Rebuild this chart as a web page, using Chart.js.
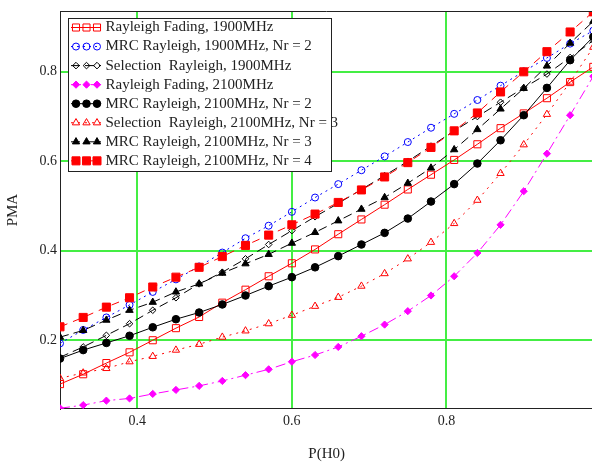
<!DOCTYPE html>
<html>
<head>
<meta charset="utf-8">
<script src="https://cdn.jsdelivr.net/npm/chart.js@4.4.1/dist/chart.umd.min.js"></script>
<style>
body { margin: 0; overflow: hidden; background: #fff; }
#wrap { width: 600px; height: 463px; }
</style>
</head>
<body>
<div id="wrap"><canvas id="myChart" width="600" height="463"></canvas></div>
<script>
// P(H0) values
var pH0 = [0.30, 0.33, 0.36, 0.39, 0.42, 0.45, 0.48, 0.51, 0.54, 0.57, 0.60, 0.63,
           0.66, 0.69, 0.72, 0.75, 0.78, 0.81, 0.84, 0.87, 0.90, 0.93, 0.96, 0.99];

var rayleigh1900 = [0.102, 0.124, 0.149, 0.173, 0.200, 0.227, 0.252, 0.284, 0.313, 0.343, 0.372, 0.403,
                    0.437, 0.470, 0.503, 0.537, 0.570, 0.603, 0.638, 0.674, 0.707, 0.741, 0.777, 0.811];
var mrc1900 = [0.193, 0.223, 0.251, 0.279, 0.308, 0.336, 0.365, 0.396, 0.428, 0.456, 0.487, 0.519,
               0.549, 0.580, 0.611, 0.643, 0.675, 0.706, 0.737, 0.769, 0.801, 0.831, 0.863, 0.892];
var sel1900 = [0.162, 0.185, 0.211, 0.237, 0.267, 0.295, 0.326, 0.352, 0.382, 0.414, 0.445, 0.476,
               0.506, 0.537, 0.568, 0.600, 0.634, 0.668, 0.700, 0.732, 0.764, 0.795, 0.832, 0.870];
var rayleigh2100 = [0.048, 0.055, 0.065, 0.070, 0.080, 0.089, 0.098, 0.109, 0.122, 0.135, 0.152, 0.167,
                    0.185, 0.209, 0.235, 0.265, 0.300, 0.343, 0.395, 0.458, 0.533, 0.617, 0.703, 0.790];
var mrc2100nr2 = [0.159, 0.178, 0.194, 0.210, 0.229, 0.247, 0.262, 0.280, 0.300, 0.321, 0.341, 0.363,
                  0.388, 0.414, 0.440, 0.472, 0.510, 0.549, 0.595, 0.647, 0.703, 0.764, 0.826, 0.878];
var sel2100nr3 = [0.115, 0.127, 0.137, 0.152, 0.164, 0.178, 0.191, 0.207, 0.221, 0.237, 0.256, 0.276,
                  0.296, 0.321, 0.349, 0.382, 0.419, 0.461, 0.513, 0.573, 0.637, 0.705, 0.777, 0.855];
var mrc2100nr3 = [0.207, 0.222, 0.245, 0.267, 0.285, 0.308, 0.326, 0.350, 0.371, 0.392, 0.417, 0.441,
                  0.467, 0.493, 0.519, 0.551, 0.585, 0.626, 0.671, 0.717, 0.763, 0.813, 0.864, 0.913];
var mrc2100nr4 = [0.230, 0.251, 0.274, 0.295, 0.319, 0.341, 0.363, 0.387, 0.412, 0.435, 0.458, 0.482,
                  0.508, 0.536, 0.565, 0.597, 0.631, 0.668, 0.708, 0.755, 0.800, 0.845, 0.889, 0.934];

var xTicks = [0.4, 0.6, 0.8];
var yTicks = [0.2, 0.4, 0.6, 0.8];

var gridGreen = '#44ee44';
var textColor = '#222';
var serif = 'Liberation Serif';

function makeSet(label, values, color, dash, style, radius, filled, idx) {
	return {
		label: label,
		data: values.map(function(v, i){ return {x: pH0[i], y: v}; }),
		borderColor: color,
		borderWidth: 1,
		borderDash: dash,
		pointStyle: style,
		pointRadius: radius,
		pointBorderWidth: 1,
		pointBorderColor: color,
		pointBackgroundColor: filled ? color : 'rgba(0,0,0,0)',
		tension: 0,
		fill: false,
		order: 8 - idx
	};
}

var datasets = [
	makeSet('Rayleigh Fading, 1900MHz', rayleigh1900, '#ff0000', [], 'rect', 5, false, 0),
	makeSet('MRC Rayleigh, 1900MHz, Nr = 2', mrc1900, '#0000ff', [2, 4], 'circle', 3.5, false, 1),
	makeSet('Selection  Rayleigh, 1900MHz', sel1900, '#000000', [9, 5], 'rectRot', 3.3, false, 2),
	makeSet('Rayleigh Fading, 2100MHz', rayleigh2100, '#ff00ff', [10, 4, 2, 4], 'rectRot', 3.6, true, 3),
	makeSet('MRC Rayleigh, 2100MHz, Nr = 2', mrc2100nr2, '#000000', [], 'circle', 3.8, true, 4),
	makeSet('Selection  Rayleigh, 2100MHz, Nr = 3', sel2100nr3, '#ff0000', [2, 5], 'triangle', 4.2, false, 5),
	makeSet('MRC Rayleigh, 2100MHz, Nr = 3', mrc2100nr3, '#000000', [9, 5], 'triangle', 4.2, true, 6),
	makeSet('MRC Rayleigh, 2100MHz, Nr = 4', mrc2100nr4, '#ff0000', [8, 6], 'rect', 5.7, true, 7)
];

// boxed legend with three markers per row, plus the top frame line
var boxLegend = {
	id: 'boxLegend',
	afterDatasetsDraw: function(chart) {
		var ctx = chart.ctx;
		var area = chart.chartArea;
		ctx.save();
		ctx.strokeStyle = textColor;
		ctx.lineWidth = 1;
		ctx.beginPath();
		ctx.moveTo(area.left, Math.round(area.top) + 0.5);
		ctx.lineTo(area.right, Math.round(area.top) + 0.5);
		ctx.stroke();

		ctx.fillStyle = '#fff';
		ctx.fillRect(68.5, 18.5, 263, 153);
		ctx.strokeRect(68.5, 18.5, 263, 153);
		ctx.font = '15px "' + serif + '"';
		ctx.textBaseline = 'middle';
		chart.data.datasets.forEach(function(ds, i) {
			var y = 27.5 + i * 19.05;
			ctx.save();
			ctx.strokeStyle = ds.borderColor;
			ctx.setLineDash(ds.borderDash);
			ctx.beginPath();
			ctx.moveTo(71, y);
			ctx.lineTo(101, y);
			ctx.stroke();
			ctx.restore();
			[76, 86.5, 97].forEach(function(x) {
				ctx.save();
				ctx.fillStyle = ds.pointBackgroundColor;
				ctx.strokeStyle = ds.pointBorderColor;
				ctx.lineWidth = 1;
				Chart.helpers.drawPoint(ctx, {pointStyle: ds.pointStyle, radius: ds.pointRadius, rotation: 0, borderWidth: 1}, x, y);
				ctx.restore();
			});
			ctx.fillStyle = textColor;
			ctx.fillText(ds.label, 105.5, y);
		});
		ctx.restore();
	}
};

const ctx = document.getElementById('myChart');

new Chart(ctx, {
	type: 'line',
	data: { datasets: datasets },
	plugins: [boxLegend],
	options: {
		responsive: false,
		animation: false,
		devicePixelRatio: 1,
		layout: { padding: { left: 0, right: 6.6, top: 10.7, bottom: 0 } },
		plugins: { legend: { display: false }, tooltip: { enabled: false } },
		scales: {
			x: {
				type: 'linear',
				min: 0.3,
				max: 0.99,
				afterBuildTicks: function(s){ s.ticks = xTicks.map(function(v){ return {value: v}; }); },
				afterFit: function(s){ s.height = 54.3; },
				grid: { color: gridGreen, lineWidth: 2, drawTicks: false },
				border: { display: true, color: textColor, width: 1 },
				ticks: {
					padding: 4, color: textColor, maxRotation: 0,
					font: { family: serif, size: 14 },
					callback: function(v){ return v.toFixed(1); }
				},
				title: { display: true, text: 'P(H0)', color: textColor, font: { family: serif, size: 15 }, padding: { top: 0, bottom: 0 } }
			},
			y: {
				type: 'linear',
				min: 0.047,
				max: 0.935,
				afterBuildTicks: function(s){ s.ticks = yTicks.map(function(v){ return {value: v}; }); },
				afterFit: function(s){ s.width = 60; },
				grid: { color: gridGreen, lineWidth: 2, drawTicks: false },
				border: { display: true, color: textColor, width: 1 },
				ticks: {
					padding: 3, color: textColor,
					font: { family: serif, size: 14 },
					callback: function(v){ return v.toFixed(1); }
				},
				title: { display: true, text: 'PMA', color: textColor, font: { family: serif, size: 15 }, padding: { top: 4, bottom: 0 } }
			}
		}
	}
});
</script>
</body>
</html>
